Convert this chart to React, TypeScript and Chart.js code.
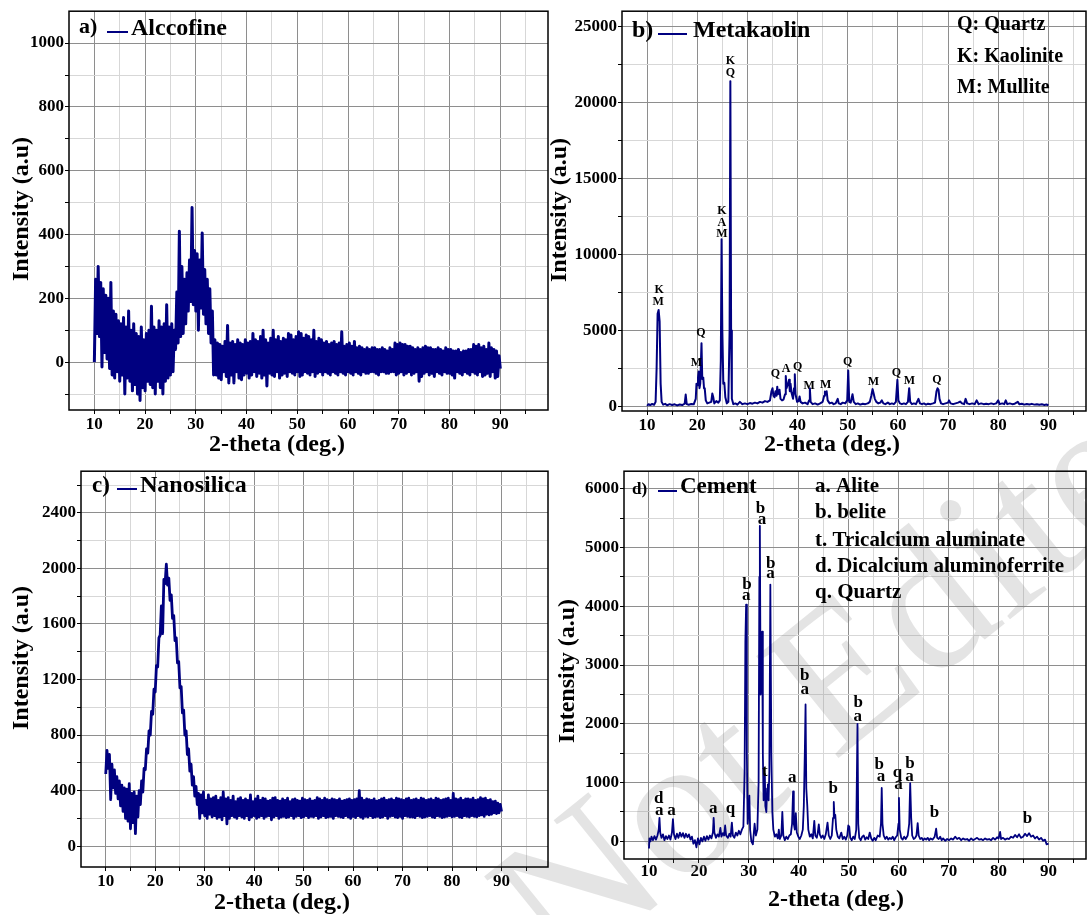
import { useEffect, useRef } from "react";
import { Chart, registerables } from "chart.js";

Chart.register(...registerables);

const SERIF = '"Liberation Serif", "Times New Roman", Times, serif';
const NAVY = "#000080";
const GRID_MAJOR = "#8e8e8e";
const GRID_MINOR = "#d7d7d7";

// (a) Alccofine: intensity sampled every 0.25 deg of 2-theta, from 10 to 90
const alccofineStart = 10;
const alccofineStep = 0.25;
const alccofineIntensity = [
  0, 260, 90, 300,
  80, 250, -15, 230,
  30, 210, 10, 200,
  -20, 250, -40, 160,
  -50, 150, -30, 130,
  -60, 120, -40, 140,
  -100, 110, -50, 160,
  -60, 100, -90, 120,
  -70, 90, -100, 80,
  -120, 110, -80, 70,
  -90, 90, -60, 100,
  -70, 175, -80, 110,
  -100, 100, -60, 130,
  -80, 110, -100, 120,
  -60, 180, -50, 110,
  -40, 120, -30, 100,
  40, 220, 60, 410,
  80, 300, 90, 260,
  120, 280, 160, 320,
  190, 485, 180, 350,
  160, 340, 100, 320,
  170, 405, 150, 290,
  120, 260, 90, 230,
  60, 160, -40, 70,
  -40, 60, -50, 55,
  -55, 50, -30, 65,
  -45, 115, -65, 60,
  -40, 65, -65, 55,
  -30, 70, -50, 60,
  -55, 55, -40, 70,
  -35, 60, -50, 65,
  -40, 90, -30, 70,
  -45, 65, -35, 80,
  -50, 100, -40, 70,
  -75, 60, -35, 75,
  -40, 100, -45, 70,
  -30, 80, -50, 65,
  -40, 75, -35, 70,
  -45, 90, -30, 85,
  -35, 70, -40, 80,
  -30, 95, -45, 90,
  -40, 75, -30, 85,
  -35, 80, -40, 70,
  -30, 100, -45, 65,
  -35, 75, -30, 70,
  -40, 60, -30, 65,
  -35, 55, -40, 60,
  -30, 65, -35, 55,
  -40, 60, -30, 95,
  -35, 50, -40, 55,
  -30, 60, -35, 50,
  -40, 65, -30, 45,
  -35, 50, -40, 45,
  -30, 40, -35, 45,
  -35, 40, -30, 45,
  -30, 45, -35, 40,
  -40, 40, -30, 45,
  -30, 40, -35, 35,
  -35, 45, -30, 40,
  -30, 60, -40, 55,
  -35, 60, -30, 55,
  -40, 55, -35, 50,
  -30, 50, -40, 45,
  -35, 40, -30, 45,
  -60, 40, -45, 45,
  -35, 50, -30, 45,
  -40, 45, -35, 40,
  -45, 40, -30, 45,
  -35, 40, -40, 35,
  -30, 45, -35, 40,
  -35, 40, -40, 35,
  -50, 35, -30, 40,
  -35, 30, -40, 35,
  -30, 35, -35, 40,
  -40, 40, -30, 55,
  -35, 50, -40, 55,
  -30, 45, -45, 50,
  -40, 40, -35, 60,
  -45, 45, -30, 40,
  -50, 35, -45, 20,
  -20,
];

// (b) Metakaolin: [2-theta, intensity]
const metakaolinScan: [number, number][] = [
  [10.0, 40], [10.3, 150], [10.6, 90], [11.0, 160], [11.4, 110], [11.7, 300],
  [11.9, 2500], [12.1, 6100], [12.3, 6350], [12.5, 5600], [12.7, 1500], [12.9, 300],
  [13.2, 120], [13.6, 170], [14.0, 80], [14.5, 150], [15.0, 100], [15.5, 140],
  [16.0, 70], [16.5, 130], [17.0, 90], [17.5, 180], [17.7, 780], [17.9, 150],
  [18.3, 110], [18.8, 160], [19.3, 140], [19.7, 500], [19.85, 1500], [20.0, 1400],
  [20.15, 1900], [20.3, 2300], [20.45, 1200], [20.6, 1500], [20.85, 4150], [21.0, 1800],
  [21.2, 1900], [21.35, 1200], [21.5, 1150], [21.7, 400], [22.0, 200], [22.4, 250],
  [22.8, 300], [23.0, 850], [23.2, 600], [23.4, 200], [23.8, 350], [24.2, 250],
  [24.5, 400], [24.7, 3000], [24.85, 11000], [25.0, 5000], [25.2, 1500], [25.4, 1550],
  [25.6, 600], [25.9, 200], [26.2, 300], [26.45, 5000], [26.6, 21400], [26.75, 5000],
  [26.9, 500], [27.2, 150], [27.6, 200], [28.0, 120], [28.5, 300], [29.0, 150],
  [29.5, 200], [30.0, 150], [30.5, 220], [31.0, 180], [31.5, 250], [32.0, 200],
  [32.5, 300], [33.0, 250], [33.5, 350], [34.0, 300], [34.5, 400], [34.8, 1000],
  [35.0, 1200], [35.2, 700], [35.4, 600], [35.6, 1000], [35.8, 700], [35.95, 1300],
  [36.1, 800], [36.4, 1100], [36.6, 500], [36.9, 400], [37.2, 450], [37.5, 800],
  [37.65, 2000], [37.8, 1200], [38.1, 1500], [38.3, 1750], [38.45, 1000], [38.6, 1500],
  [38.8, 900], [39.1, 500], [39.3, 1200], [39.45, 2120], [39.6, 800], [39.9, 300],
  [40.2, 350], [40.4, 650], [40.6, 300], [41.0, 200], [41.5, 250], [42.0, 150],
  [42.3, 400], [42.45, 1200], [42.6, 300], [43.0, 150], [43.5, 200], [44.0, 120],
  [44.5, 200], [45.0, 300], [45.3, 700], [45.45, 980], [45.6, 800], [45.8, 1000],
  [46.0, 400], [46.4, 200], [46.8, 250], [47.2, 150], [47.6, 200], [48.0, 500],
  [48.2, 200], [48.6, 150], [49.0, 250], [49.5, 200], [49.9, 400], [50.1, 2360],
  [50.3, 300], [50.6, 250], [50.95, 800], [51.2, 300], [51.6, 150], [52.0, 200],
  [52.5, 120], [53.0, 180], [53.5, 150], [54.0, 200], [54.4, 300], [54.7, 700],
  [54.95, 1140], [55.2, 800], [55.4, 500], [55.7, 300], [56.1, 200], [56.5, 250],
  [56.8, 400], [57.1, 200], [57.5, 150], [58.0, 250], [58.4, 150], [58.8, 200],
  [59.2, 150], [59.6, 300], [59.9, 1750], [60.1, 400], [60.4, 200], [60.8, 150],
  [61.2, 200], [61.6, 150], [62.0, 300], [62.25, 1200], [62.45, 300], [62.8, 150],
  [63.2, 200], [63.6, 150], [64.1, 500], [64.4, 200], [64.8, 150], [65.2, 200],
  [65.6, 120], [66.0, 180], [66.5, 150], [67.0, 200], [67.4, 250], [67.7, 1000],
  [67.9, 1200], [68.1, 1100], [68.3, 500], [68.6, 200], [69.0, 150], [69.5, 200],
  [70.0, 250], [70.2, 400], [70.5, 200], [71.0, 150], [71.5, 200], [72.0, 250],
  [72.4, 320], [72.8, 200], [73.2, 150], [73.5, 500], [73.8, 200], [74.3, 150],
  [74.8, 200], [75.3, 150], [75.7, 400], [76.1, 150], [76.6, 200], [77.1, 150],
  [77.6, 180], [78.1, 150], [78.6, 200], [79.1, 150], [79.6, 200], [80.0, 400],
  [80.3, 150], [80.8, 200], [81.2, 150], [81.5, 400], [81.8, 150], [82.3, 200],
  [82.8, 150], [83.3, 180], [83.9, 300], [84.2, 150], [84.7, 180], [85.2, 120],
  [85.7, 160], [86.2, 130], [86.7, 170], [87.2, 120], [87.7, 150], [88.2, 110],
  [88.7, 140], [89.2, 100], [89.6, 130], [90.0, 80],
];

// phase letters above the metakaolin reflections: [2-theta, intensity, letter]
const metakaolinPhases: [number, number, string][] = [
  [12.4, 7660, "K"], [12.2, 6900, "M"],
  [19.85, 2850, "M"], [20.75, 4860, "Q"],
  [24.9, 12830, "K"], [24.9, 12100, "A"], [24.9, 11380, "M"],
  [26.6, 22720, "K"], [26.6, 21960, "Q"],
  [35.6, 2120, "Q"], [37.7, 2450, "A"], [40.0, 2630, "Q"],
  [42.3, 1380, "M"], [45.6, 1420, "M"], [50.0, 2910, "Q"],
  [55.1, 1600, "M"], [59.7, 2190, "Q"], [62.3, 1690, "M"], [67.8, 1750, "Q"],
];

// (c) Nanosilica: intensity sampled every 0.25 deg of 2-theta, from 10 to 90
const nanosilicaStart = 10;
const nanosilicaStep = 0.25;
const nanosilicaIntensity = [
  520, 690, 560, 660,
  335, 590, 420, 550,
  380, 500, 340, 470,
  290, 440, 250, 420,
  200, 410, 180, 450,
  125, 380, 170, 390,
  90, 360, 210, 400,
  300, 470, 390, 560,
  550, 700, 670, 830,
  800, 970, 950, 1130,
  1110, 1300, 1290, 1500,
  1520, 1730, 1530, 1920,
  1890, 2030, 1880, 1930,
  1770, 1810, 1640, 1660,
  1480, 1500, 1320, 1330,
  1140, 1150, 960, 980,
  800, 830, 660, 700,
  540, 590, 440, 500,
  360, 430, 300, 380,
  200, 370, 240, 390,
  220, 330, 200, 370,
  230, 340, 210, 350,
  220, 360, 200, 330,
  210, 350, 190, 390,
  220, 340, 160, 350,
  200, 330, 220, 360,
  210, 320, 200, 340,
  220, 350, 210, 330,
  200, 340, 220, 330,
  190, 370, 210, 320,
  220, 340, 200, 360,
  210, 330, 220, 345,
  200, 340, 215, 325,
  220, 330, 190, 345,
  210, 350, 220, 330,
  200, 325, 210, 340,
  215, 330, 205, 345,
  210, 320, 220, 335,
  200, 340, 215, 330,
  220, 325, 205, 345,
  210, 335, 220, 330,
  205, 340, 215, 325,
  210, 330, 220, 350,
  200, 340, 210, 330,
  220, 345, 205, 335,
  210, 330, 215, 340,
  200, 335, 220, 330,
  215, 340, 210, 325,
  205, 330, 220, 335,
  210, 340, 200, 330,
  215, 335, 205, 340,
  220, 400, 210, 345,
  200, 330, 215, 340,
  210, 335, 220, 330,
  205, 340, 210, 325,
  215, 330, 205, 340,
  210, 345, 220, 330,
  200, 335, 215, 340,
  220, 330, 210, 345,
  205, 340, 215, 335,
  200, 330, 220, 340,
  215, 345, 210, 330,
  210, 335, 205, 340,
  220, 330, 215, 345,
  205, 340, 210, 330,
  215, 335, 220, 340,
  210, 330, 205, 345,
  220, 340, 215, 330,
  205, 335, 210, 340,
  215, 345, 220, 330,
  210, 380, 215, 340,
  220, 335, 210, 345,
  205, 330, 220, 340,
  215, 340, 210, 335,
  220, 345, 215, 330,
  210, 335, 220, 350,
  225, 340, 215, 345,
  230, 330, 225, 335,
  230, 320, 240, 325,
  235, 310, 240, 300,
  250,
];

// (d) Cement: [2-theta, intensity]
const cementScan: [number, number][] = [
  [10.0, -120], [10.1, 50], [10.3, 0], [10.5, 80], [10.8, 20], [11.1, 90],
  [11.4, 30], [11.7, 100], [11.95, 200], [12.1, 400], [12.25, 150], [12.5, 60],
  [12.8, 120], [13.1, 20], [13.4, 90], [13.7, 40], [14.0, 100], [14.3, 30],
  [14.6, 150], [14.8, 380], [15.0, 120], [15.3, 40], [15.6, 130], [15.9, 60],
  [16.2, 150], [16.5, 80], [16.8, 140], [17.1, 60], [17.4, 130], [17.7, 70],
  [18.0, 120], [18.3, 30], [18.6, 80], [18.9, -40], [19.2, 20], [19.5, -100],
  [19.8, 50], [20.1, -50], [20.4, 60], [20.7, 0], [21.0, 80], [21.3, 10],
  [21.6, 90], [21.9, 30], [22.2, 100], [22.5, 50], [22.8, 150], [22.95, 400],
  [23.1, 150], [23.4, 60], [23.7, 120], [24.0, 80], [24.3, 230], [24.5, 80],
  [24.8, 140], [25.05, 100], [25.25, 270], [25.45, 100], [25.8, 60], [26.1, 130],
  [26.35, 80], [26.6, 320], [26.8, 100], [27.1, 60], [27.4, 150], [27.7, 100],
  [28.0, 180], [28.3, 120], [28.6, 200], [28.9, 250], [29.15, 1200], [29.3, 3400],
  [29.45, 4030], [29.6, 1500], [29.75, 300], [29.95, 500], [30.1, 780], [30.25, 200],
  [30.5, 0], [30.8, -50], [31.0, 150], [31.15, 300], [31.4, 100], [31.7, 200],
  [31.95, 1000], [32.1, 4500], [32.2, 5370], [32.35, 2500], [32.5, 2800], [32.65, 3570],
  [32.8, 1500], [32.95, 700], [33.1, 800], [33.2, 1150], [33.3, 600], [33.5, 500],
  [33.65, 900], [33.8, 970], [33.95, 700], [34.1, 1200], [34.3, 4370], [34.5, 1500],
  [34.7, 500], [34.9, 200], [35.2, 80], [35.5, 120], [35.8, 50], [36.0, 200],
  [36.2, 40], [36.5, 100], [36.7, 500], [36.9, 100], [37.2, 20], [37.5, 80],
  [37.8, 40], [38.1, 100], [38.4, 120], [38.65, 300], [38.85, 850], [39.0, 300],
  [39.2, 200], [39.4, 480], [39.6, 150], [39.9, 80], [40.2, 40], [40.5, 100],
  [40.8, 200], [41.0, 600], [41.2, 1500], [41.35, 2330], [41.5, 900], [41.7, 600],
  [41.9, 200], [42.2, 80], [42.5, 120], [42.8, 50], [43.1, 350], [43.3, 100],
  [43.6, 60], [43.8, 150], [44.0, 290], [44.2, 120], [44.5, 60], [44.8, 100],
  [45.1, 40], [45.4, 120], [45.75, 320], [46.0, 100], [46.3, 40], [46.6, 100],
  [46.85, 400], [47.0, 670], [47.15, 400], [47.3, 450], [47.5, 200], [47.8, 80],
  [48.1, 50], [48.5, 150], [48.8, 40], [49.1, 80], [49.4, 30], [49.7, 100],
  [49.9, 270], [50.1, 250], [50.3, 60], [50.6, 20], [50.9, 80], [51.2, 40],
  [51.5, 200], [51.75, 2000], [51.9, 300], [52.1, 60], [52.4, 20], [52.7, 80],
  [53.0, 100], [53.3, 30], [53.6, 70], [53.9, 40], [54.2, 150], [54.5, 50],
  [54.8, 10], [55.1, 60], [55.4, 20], [55.8, 100], [56.2, 80], [56.45, 300],
  [56.6, 910], [56.75, 300], [57.0, 100], [57.3, 40], [57.6, 80], [57.9, 30],
  [58.2, 60], [58.5, 40], [58.8, 80], [59.1, 20], [59.4, 70], [59.7, 100],
  [59.95, 300], [60.05, 740], [60.2, 200], [60.5, 60], [60.8, 30], [61.1, 80],
  [61.4, 40], [61.8, 100], [62.1, 300], [62.3, 990], [62.5, 400], [62.7, 100],
  [63.0, 40], [63.3, 60], [63.55, 100], [63.8, 310], [64.0, 100], [64.3, 40],
  [64.6, 60], [64.9, 20], [65.2, 50], [65.5, 30], [65.8, 60], [66.1, 20],
  [66.4, 50], [66.8, 30], [67.2, 80], [67.5, 215], [67.7, 60], [68.0, 40],
  [68.3, 80], [68.6, 20], [68.9, 50], [69.3, 10], [69.7, 40], [70.1, 20],
  [70.5, 50], [70.9, 30], [71.3, 80], [71.7, 40], [72.1, 60], [72.5, 20],
  [72.9, 50], [73.3, 30], [73.7, 40], [74.1, 10], [74.5, 50], [74.9, 20],
  [75.3, 40], [75.7, 60], [76.1, 30], [76.5, 40], [76.9, 20], [77.3, 50],
  [77.7, 30], [78.1, 40], [78.5, 20], [78.9, 60], [79.3, 30], [79.7, 70],
  [80.0, 50], [80.3, 160], [80.5, 40], [80.9, 60], [81.3, 30], [81.7, 50],
  [82.1, 40], [82.5, 80], [82.9, 60], [83.3, 110], [83.7, 70], [84.1, 120],
  [84.5, 60], [84.9, 80], [85.3, 130], [85.7, 90], [86.1, 140], [86.5, 80],
  [86.9, 100], [87.3, 50], [87.7, 80], [88.1, 30], [88.5, 60], [88.9, 10],
  [89.3, 30], [89.6, -50], [90.0, -40],
];

// phase letters above the cement reflections: [2-theta, intensity, letter]
const cementPhases: [number, number, string][] = [
  [11.95, 730, "d"], [12.05, 520, "a"], [14.5, 520, "a"], [22.85, 550, "a"], [26.3, 550, "q"],
  [29.6, 4370, "b"], [29.5, 4190, "a"],
  [32.35, 5660, "b"], [32.65, 5480, "a"],
  [33.2, 1180, "t"],
  [34.4, 4730, "b"], [34.35, 4550, "a"],
  [38.7, 1080, "a"],
  [41.2, 2820, "b"], [41.2, 2580, "a"],
  [46.9, 890, "b"],
  [51.9, 2370, "b"], [51.8, 2130, "a"],
  [56.1, 1300, "b"], [56.45, 1110, "a"],
  [59.75, 1170, "q"], [59.95, 960, "a"],
  [62.25, 1320, "b"], [62.15, 1110, "a"],
  [67.15, 490, "b"], [85.8, 380, "b"],
];

// axis ticks
const thetaMajor = [10, 20, 30, 40, 50, 60, 70, 80, 90];
const thetaMinor = [15, 25, 35, 45, 55, 65, 75, 85, 95];
const alccofineMajor = [0, 200, 400, 600, 800, 1000];
const alccofineMinor = [-100, 100, 300, 500, 700, 900];
const metakaolinMajor = [0, 5000, 10000, 15000, 20000, 25000];
const metakaolinMinor = [2500, 7500, 12500, 17500, 22500];
const nanosilicaMajor = [0, 400, 800, 1200, 1600, 2000, 2400];
const nanosilicaMinor = [200, 600, 1000, 1400, 1800, 2200, 2600];
const cementMajor = [0, 1000, 2000, 3000, 4000, 5000, 6000];
const cementMinor = [500, 1500, 2500, 3500, 4500, 5500];

const sampled = (start: number, step: number, values: number[]) =>
  values.map((y, i) => ({ x: start + i * step, y }));
const paired = (scan: [number, number][]) => scan.map(([x, y]) => ({ x, y }));

type Label = { text: string; x: number; y: number; size: number };

type Panel = {
  box: [number, number, number, number]; // canvas left, top, width, height on the page
  area: [number, number, number, number]; // plot frame left, top, right, bottom on the page
  points: { x: number; y: number }[];
  xRange: [number, number];
  yRange: [number, number];
  yMajor: number[];
  yMinor: number[];
  lineWidth: number;
  phases: [number, number, string][];
  phaseSize: number;
  yTitleAt: [number, number];
  xTitleAt: [number, number];
  xLabelPad: number;
  labels: Label[];
  key: [number, number, number]; // legend swatch x1, x2, y
};

const panels: Panel[] = [
  {
    box: [0, 0, 550, 460],
    area: [69, 7, 548, 410],
    points: sampled(alccofineStart, alccofineStep, alccofineIntensity),
    xRange: [5, 99.4],
    yRange: [-150, 1100],
    yMajor: alccofineMajor,
    yMinor: alccofineMinor,
    lineWidth: 3,
    phases: [],
    phaseSize: 12,
    yTitleAt: [22, 209],
    xTitleAt: [277, 445],
    xLabelPad: 0,
    labels: [
      { text: "a)", x: 79, y: 33, size: 22 },
      { text: "Alccofine", x: 131, y: 35, size: 24 },
    ],
    key: [107, 128, 32],
  },
  {
    box: [550, 0, 537, 460],
    area: [622, 10, 1086, 411],
    points: paired(metakaolinScan),
    xRange: [5, 97.5],
    yRange: [-300, 26000],
    yMajor: metakaolinMajor,
    yMinor: metakaolinMinor,
    lineWidth: 2,
    phases: metakaolinPhases,
    phaseSize: 12,
    yTitleAt: [560, 210],
    xTitleAt: [832, 445],
    xLabelPad: 0,
    labels: [
      { text: "b)", x: 632, y: 37, size: 24 },
      { text: "Metakaolin", x: 693, y: 37, size: 24 },
      { text: "Q: Quartz", x: 957, y: 30, size: 20 },
      { text: "K: Kaolinite", x: 957, y: 62, size: 20 },
      { text: "M: Mullite", x: 957, y: 93, size: 20 },
    ],
    key: [658, 687, 34],
  },
  {
    box: [0, 460, 550, 455],
    area: [81, 465, 548, 867],
    points: sampled(nanosilicaStart, nanosilicaStep, nanosilicaIntensity),
    xRange: [5, 99.4],
    yRange: [-150, 2700],
    yMajor: nanosilicaMajor,
    yMinor: nanosilicaMinor,
    lineWidth: 2.8,
    phases: [],
    phaseSize: 12,
    yTitleAt: [22, 658],
    xTitleAt: [282, 903],
    xLabelPad: 0,
    labels: [
      { text: "c)", x: 92, y: 492, size: 23 },
      { text: "Nanosilica", x: 140, y: 492, size: 24 },
    ],
    key: [117, 137, 489],
  },
  {
    box: [550, 460, 537, 455],
    area: [624, 469, 1086, 859],
    points: paired(cementScan),
    xRange: [5, 97.5],
    yRange: [-300, 6300],
    yMajor: cementMajor,
    yMinor: cementMinor,
    lineWidth: 1.8,
    phases: cementPhases,
    phaseSize: 17,
    yTitleAt: [568, 671],
    xTitleAt: [836, 900],
    xLabelPad: -2,
    labels: [
      { text: "d)", x: 632, y: 494, size: 17 },
      { text: "Cement", x: 680, y: 493, size: 23 },
      { text: "a. Alite", x: 815, y: 492, size: 21 },
      { text: "b. belite", x: 815, y: 518, size: 21 },
      { text: "t. Tricalcium aluminate", x: 815, y: 546, size: 21 },
      { text: "d. Dicalcium aluminoferrite", x: 815, y: 572, size: 21 },
      { text: "q. Quartz", x: 815, y: 598, size: 21 },
    ],
    key: [658, 677, 491],
  },
];

const bold = (size: number) => `bold ${size}px ${SERIF}`;

function makeDecor(p: Panel) {
  const [bl, bt] = p.box;
  return {
    id: "decor",
    beforeDatasetsDraw(chart: Chart) {
      // faint diagonal stamp across the lower right of the sheet
      const ctx = chart.ctx;
      ctx.save();
      ctx.translate(-bl, -bt);
      ctx.translate(562, 982);
      ctx.rotate((-39 * Math.PI) / 180);
      ctx.font = `200px ${SERIF}`;
      ctx.fillStyle = "rgba(120,120,120,0.2)";
      ctx.textAlign = "left";
      ctx.textBaseline = "alphabetic";
      ctx.fillText("Not Edited", 0, 0);
      ctx.restore();
    },
    afterDatasetsDraw(chart: Chart) {
      const ctx = chart.ctx;
      const { left, top, right, bottom } = chart.chartArea;
      const xs = chart.scales.x;
      const ys = chart.scales.y;
      ctx.save();
      // plot frame
      ctx.strokeStyle = "#000";
      ctx.lineWidth = 1.5;
      ctx.strokeRect(left, top, right - left, bottom - top);

      // phase letters
      ctx.fillStyle = "#000";
      ctx.font = bold(p.phaseSize);
      ctx.textAlign = "center";
      ctx.textBaseline = "middle";
      for (const [x, y, t] of p.phases) {
        ctx.fillText(t, xs.getPixelForValue(x), ys.getPixelForValue(y));
      }

      // axis titles
      ctx.font = bold(24);
      ctx.fillText("2-theta (deg.)", p.xTitleAt[0] - bl, p.xTitleAt[1] - bt);
      ctx.save();
      ctx.translate(p.yTitleAt[0] - bl, p.yTitleAt[1] - bt);
      ctx.rotate(-Math.PI / 2);
      ctx.fillText("Intensity (a.u)", 0, 0);
      ctx.restore();

      // legend and phase key
      ctx.textAlign = "left";
      ctx.textBaseline = "alphabetic";
      for (const l of p.labels) {
        ctx.font = bold(l.size);
        ctx.fillText(l.text, l.x - bl, l.y - bt);
      }
      ctx.strokeStyle = NAVY;
      ctx.lineWidth = 2;
      ctx.beginPath();
      ctx.moveTo(p.key[0] - bl, p.key[2] - bt);
      ctx.lineTo(p.key[1] - bl, p.key[2] - bt);
      ctx.stroke();
      ctx.restore();
    },
  };
}

function PanelChart({ p }: { p: Panel }) {
  const ref = useRef<HTMLCanvasElement>(null);
  const [bl, bt, bw, bh] = p.box;
  useEffect(() => {
    const [al, at, ar, ab] = p.area;
    const tickFont = { family: SERIF, size: 17, weight: "bold" as const };
    const xTicks = [...thetaMajor, ...thetaMinor].filter(
      (v) => v > p.xRange[0] && v < p.xRange[1]
    );
    const yTicks = [...p.yMajor, ...p.yMinor].filter(
      (v) => v > p.yRange[0] && v < p.yRange[1]
    );
    const chart = new Chart(ref.current as HTMLCanvasElement, {
      type: "line",
      data: {
        datasets: [
          {
            data: p.points,
            borderColor: NAVY,
            borderWidth: p.lineWidth,
            borderJoinStyle: "round",
            pointRadius: 0,
            tension: 0,
            fill: false,
          },
        ],
      },
      options: {
        responsive: false,
        animation: false,
        devicePixelRatio: 1,
        events: [],
        layout: {
          padding: { left: 0, top: at - bt, right: bl + bw - ar, bottom: 0 },
        },
        plugins: { legend: { display: false }, tooltip: { enabled: false } },
        scales: {
          x: {
            type: "linear",
            min: p.xRange[0],
            max: p.xRange[1],
            afterFit: (s: any) => {
              s.height = bt + bh - ab;
            },
            afterBuildTicks: (s: any) => {
              s.ticks = xTicks.map((value) => ({ value }));
            },
            ticks: {
              autoSkip: false,
              maxRotation: 0,
              padding: p.xLabelPad,
              color: "#000",
              font: tickFont,
              callback: (v: any) => (thetaMajor.includes(Number(v)) ? String(v) : ""),
            },
            grid: {
              color: (c: any) => (thetaMajor.includes(c.tick?.value) ? GRID_MAJOR : GRID_MINOR),
              tickColor: "#000",
              tickLength: 4,
              lineWidth: 1,
            },
            border: { display: false },
          },
          y: {
            type: "linear",
            min: p.yRange[0],
            max: p.yRange[1],
            afterFit: (s: any) => {
              s.width = al - bl;
            },
            afterBuildTicks: (s: any) => {
              s.ticks = yTicks.map((value) => ({ value }));
            },
            ticks: {
              autoSkip: false,
              padding: 1,
              color: "#000",
              font: tickFont,
              callback: (v: any) => (p.yMajor.includes(Number(v)) ? String(v) : ""),
            },
            grid: {
              color: (c: any) => (p.yMajor.includes(c.tick?.value) ? GRID_MAJOR : GRID_MINOR),
              tickColor: "#000",
              tickLength: 4,
              lineWidth: 1,
            },
            border: { display: false },
          },
        },
      },
      plugins: [makeDecor(p)],
    });
    return () => chart.destroy();
  }, [p]);
  return (
    <canvas
      ref={ref}
      width={bw}
      height={bh}
      style={{ position: "absolute", left: bl, top: bt, width: bw, height: bh }}
    />
  );
}

export default function App() {
  return (
    <div
      style={{
        position: "absolute",
        left: 0,
        top: 0,
        width: 1087,
        height: 915,
        background: "#fff",
        overflow: "hidden",
      }}
    >
      {panels.map((p, i) => (
        <PanelChart key={i} p={p} />
      ))}
    </div>
  );
}
